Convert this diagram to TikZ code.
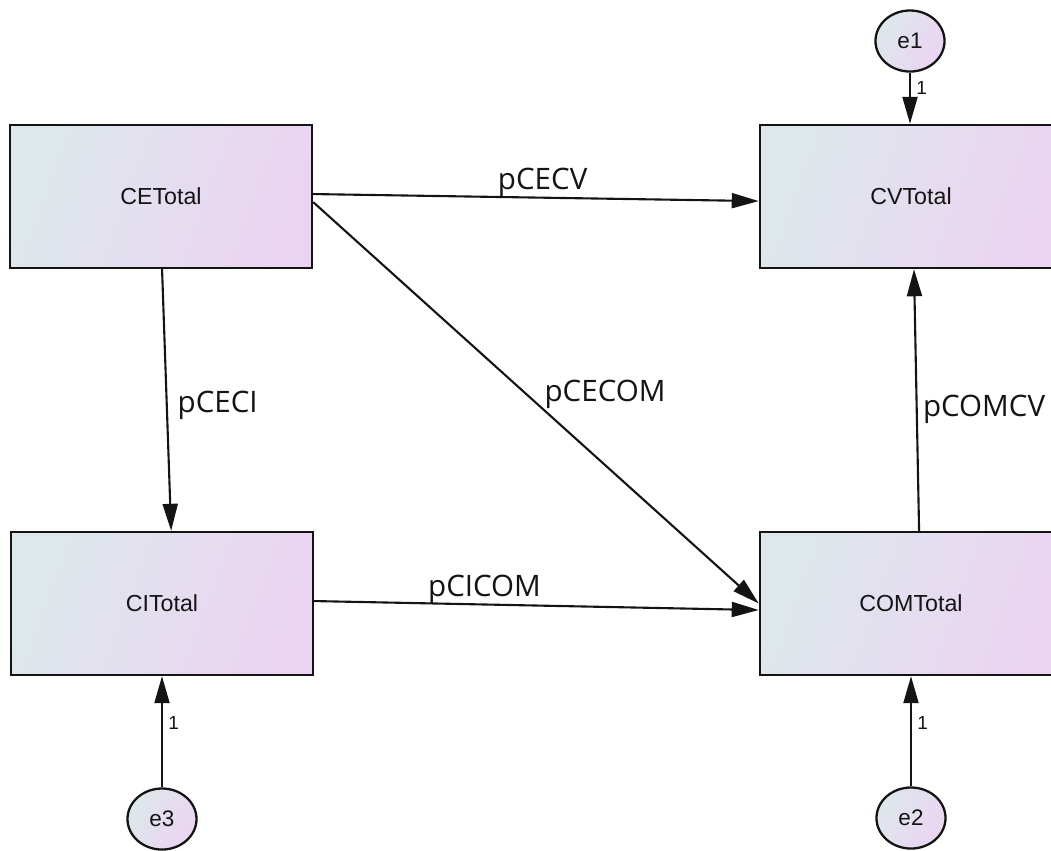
\documentclass[tikz,border=0pt]{standalone}
\usepackage{fontspec}
\setmainfont{Liberation Sans}
\newfontfamily\pathfont{Open Sans}
\usetikzlibrary{arrows.meta,shapes.geometric}
\definecolor{shadeL}{RGB}{221,232,234}
\definecolor{shadeR}{RGB}{235,212,243}
\definecolor{ink}{RGB}{20,20,20}

\begin{document}
\begin{tikzpicture}[x=0.01cm, y=-0.01cm,
    obs/.style={draw=ink, line width=0.65pt, left color=shadeL, right color=shadeR, shading angle=70,
      minimum width=3.02cm, minimum height=1.43cm, inner sep=0, text=ink, font=\fontsize{6.6}{7.5}\selectfont},
    err/.style={ellipse, draw=ink, line width=0.65pt, left color=shadeL, right color=shadeR, shading angle=60,
      minimum width=0.69cm, minimum height=0.61cm, inner sep=0, text=ink, font=\fontsize{6.4}{7.5}\selectfont},
    reg/.style={draw=ink, line width=0.6pt, -{Triangle[length=0.27cm,width=0.15cm]}},
    coef/.style={inner sep=0, text=ink, font=\pathfont\fontsize{8.4}{10}\selectfont},
    one/.style={inner sep=1.5pt, text=ink, font=\fontsize{5.4}{6}\selectfont}]
    \useasboundingbox (0,0) rectangle (1051,850);
    \clip (0,0) rectangle (1051,850);
         \node[obs] (ce) at (161,196.5) {CETotal};
         \node[obs] (cv) at (911,196.5) {CVTotal};
         \node[obs] (ci) at (162,603.5) {CITotal};
         \node[obs] (com) at (911,603.5) {COMTotal};
         \node[err] (e1) at (910,41) {e1};
         \node[err] (e2) at (911,818) {e2};
         \node[err] (e3) at (162,819) {e3};
         \draw[reg] ([yshift=0.7pt]ce.east) -- node[coef, pos=0.515, above] {pCECV} ([yshift=-1.3pt]cv.west);
         \draw[reg] ([yshift=-1.6pt]ce.east) -- node[coef, pos=0.517, anchor=south west] {pCECOM} (com.west);
         \draw[reg] ([xshift=0.3pt]ce.south) -- node[coef, pos=0.52, right=2.8pt] {pCECI} ([xshift=2.6pt]ci.north);
         \draw[reg] ([yshift=0.7pt]ci.east) -- node[coef, pos=0.383, above] {pCICOM} ([yshift=-1.85pt]com.west);
         \draw[reg] ([xshift=2.3pt]com.north) -- node[coef, pos=0.464, right=1.5pt] {pCOMCV} ([xshift=0.85pt]cv.south);
         \draw[reg] (e1.south) -- node[one, pos=0.3, right] {1} (e1.south |- cv.north);
         \draw[reg] (e3.north) -- node[one, pos=0.58, right] {1} (e3.north |- ci.south);
         \draw[reg] (e2.north) -- node[one, pos=0.58, right] {1} (e2.north |- com.south);
    \end{tikzpicture}
\end{document}
